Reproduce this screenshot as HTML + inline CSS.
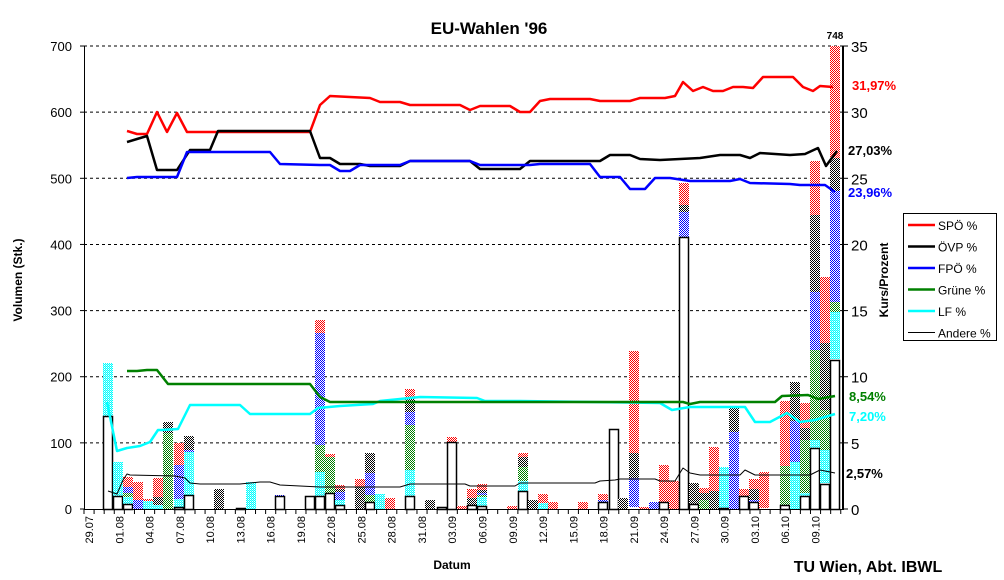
<!DOCTYPE html>
<html><head><meta charset="utf-8"><style>
html,body{margin:0;padding:0;background:#fff}
svg{display:block}
text{font-family:"Liberation Sans",Arial,sans-serif}
</style></head><body>
<svg id="s" width="1004" height="580" xmlns="http://www.w3.org/2000/svg">
<defs>
<pattern id="pr" width="2" height="2" patternUnits="userSpaceOnUse"><rect width="2" height="2" fill="#fff"/><rect width="1" height="1" fill="#f00"/><rect x="1" y="1" width="1" height="1" fill="#f00"/></pattern>
<pattern id="pk" width="2" height="2" patternUnits="userSpaceOnUse"><rect width="2" height="2" fill="#fff"/><rect width="1" height="1" fill="#000"/><rect x="1" y="1" width="1" height="1" fill="#000"/></pattern>
<pattern id="pb" width="2" height="2" patternUnits="userSpaceOnUse"><rect width="2" height="2" fill="#fff"/><rect width="1" height="1" fill="#00f"/><rect x="1" y="1" width="1" height="1" fill="#00f"/></pattern>
<pattern id="pg" width="2" height="2" patternUnits="userSpaceOnUse"><rect width="2" height="2" fill="#fff"/><rect width="1" height="1" fill="#008000"/><rect x="1" y="1" width="1" height="1" fill="#008000"/></pattern>
<pattern id="pc" width="2" height="2" patternUnits="userSpaceOnUse"><rect width="2" height="2" fill="#fff"/><rect width="1" height="1" fill="#0ff"/><rect x="1" y="1" width="1" height="1" fill="#0ff"/><rect x="1" y="0" width="1" height="1" fill="#8ff"/></pattern>
</defs>
<g id="grid"></g>
<g id="bars"></g>
<g id="lines" fill="none"></g>
<g id="axes"></g>
<text x="489" y="34" font-size="17" font-weight="bold" text-anchor="middle">EU-Wahlen '96</text>
<text transform="translate(22,280) rotate(-90)" font-size="12" font-weight="bold" text-anchor="middle">Volumen (Stk.)</text>
<text transform="translate(888,280) rotate(-90)" font-size="12" font-weight="bold" text-anchor="middle">Kurs/Prozent</text>
<text x="452" y="569" font-size="12" font-weight="bold" text-anchor="middle">Datum</text>
<text x="868" y="572" font-size="16" font-weight="bold" text-anchor="middle">TU Wien, Abt. IBWL</text>
<text x="835" y="39" font-size="10" font-weight="bold" text-anchor="middle">748</text>
<text x="852" y="90" font-size="13" font-weight="bold" fill="#f00">31,97%</text>
<text x="848" y="155" font-size="13" font-weight="bold" fill="#000">27,03%</text>
<text x="848" y="197" font-size="13" font-weight="bold" fill="#00f">23,96%</text>
<text x="849" y="401" font-size="13" font-weight="bold" fill="#008000">8,54%</text>
<text x="849" y="421" font-size="13" font-weight="bold" fill="#0ff">7,20%</text>
<text x="846" y="478" font-size="13" font-weight="bold" fill="#000">2,57%</text>
<g id="legend">
<rect x="903.500" y="213.500" width="93" height="127" fill="#fff" stroke="#000"/>
</g>
</svg>
<script>
var NS="http://www.w3.org/2000/svg";
function el(p,t,a,txt){var e=document.createElementNS(NS,t);for(var k in a)e.setAttribute(k,a[k]);if(txt!=null)e.textContent=txt;document.getElementById(p).appendChild(e);return e;}
// grid
for(var i=1;i<=7;i++){var y=509-i*66.14;el("grid","line",{x1:84,x2:843,y1:y,y2:y,stroke:"#000","stroke-dasharray":"3,3","stroke-width":1});}
// axes
el("axes","line",{x1:84.5,x2:84.5,y1:46,y2:509,stroke:"#000","stroke-width":1});
el("axes","line",{x1:843,x2:843,y1:46,y2:510,stroke:"#000","stroke-width":2});
el("axes","line",{x1:84,x2:843,y1:509.5,y2:509.5,stroke:"#000","stroke-width":1});
for(var i=0;i<=7;i++){var y=509-i*66.14;
 el("axes","line",{x1:80,x2:84,y1:y,y2:y,stroke:"#000"});
 el("axes","text",{x:72,y:y+5,"font-size":13,"text-anchor":"end"},String(i*100));
 el("axes","line",{x1:843,x2:848,y1:y,y2:y,stroke:"#000"});
 el("axes","text",{x:851,y:y+6,"font-size":15},String(i*5));}
var dates=["29.07","01.08","04.08","07.08","10.08","13.08","16.08","19.08","22.08","25.08","28.08","31.08","03.09","06.09","09.09","12.09","15.09","18.09","21.09","24.09","27.09","30.09","03.10","06.10","09.10"];
for(var d=0;d<=75;d++){var x=84+d*10.09;el("axes","line",{x1:x,x2:x,y1:509,y2:514,stroke:"#000"});}
for(var j=0;j<dates.length;j++){var x=89+j*3*10.09+4;
 el("axes","text",{transform:"translate("+x+",516) rotate(-90)","font-size":11,"text-anchor":"end"},dates[j]);}
// bars: [x, [[c,top,bottom]...], whiteTop]
var B=[
[103,[["c",363,509]],416],[113,[["c",462,509]],496],
[123,[["r",477,487],["b",487,493],["g",493,497],["c",497,509]],504],
[133,[["r",482,500],["b",500,509]],null],[143,[["r",499,501],["c",501,509]],null],
[153,[["r",478,497],["k",497,505],["c",505,509]],null],
[163,[["k",422,433],["g",433,509]],null],
[174,[["r",443,465],["b",465,499],["c",499,509]],507],
[184,[["k",436,450],["b",450,452],["c",452,509]],495],
[214,[["k",489,509]],null],[236,[],508],[246,[["c",482,509]],null],
[275,[["b",495,497]],496],[305,[],496],
[315,[["r",320,333],["b",333,445],["g",445,472],["c",472,509]],496],
[325,[["r",454,457],["g",457,495]],493],
[335,[["r",485,489],["k",489,492],["b",492,500],["c",500,509]],505],
[355,[["r",479,487],["k",487,509]],null],
[365,[["k",453,473],["b",473,495],["g",495,502]],502],
[375,[["c",494,509]],null],[385,[["r",498,509]],null],
[405,[["r",389,399],["k",399,412],["b",412,425],["g",425,470],["c",470,509]],496],
[425,[["k",500,509]],null],[437,[],507],
[447,[["r",437,442]],442],[457,[["r",506,509]],null],
[467,[["r",489,498],["k",498,505]],505],
[477,[["r",484,490],["k",490,493],["b",493,495],["g",495,497],["c",497,509]],506],
[507,[["r",506,509]],null],
[518,[["r",453,457],["k",457,467],["g",467,481],["c",481,491]],491],
[528,[["k",500,509]],null],[538,[["r",494,503],["c",503,509]],null],
[548,[["r",502,509]],null],[578,[["r",502,509]],null],
[598,[["r",494,500],["b",500,502]],502],
[609,[],429],[618,[["k",498,509]],null],
[629,[["r",351,453],["k",453,478],["b",478,507]],null],
[639,[["r",507,509]],null],[649,[["b",502,509]],null],
[659,[["r",465,509]],502],[669,[["r",481,509]],null],
[679,[["r",183,205],["k",205,212],["b",212,237]],237],
[689,[["k",483,509]],504],
[699,[["r",488,493],["k",493,500],["g",500,509]],null],
[709,[["r",447,491],["k",491,509]],null],
[719,[["c",467,509]],508],
[729,[["k",408,432],["b",432,509]],null],
[739,[["r",489,496],["b",496,509]],496],
[749,[["r",479,489],["k",489,500],["b",500,509]],502],
[759,[["r",472,508]],null],
[780,[["r",401,466],["g",466,509]],505],
[790,[["k",382,421],["b",421,462],["c",462,509]],null],
[800,[["r",403,428],["k",428,440],["g",440,493],["c",493,509]],496],
[810,[["r",161,215],["k",215,292],["b",292,350],["g",350,440],["c",440,509]],448],
[820,[["r",277,343],["k",343,410],["g",410,450],["c",450,483]],484],
[830,[["r",46,158],["k",158,191],["b",191,302],["g",302,312],["c",312,359]],360]
];
B.forEach(function(b){var x=b[0];b[1].forEach(function(s){el("bars","rect",{x:x,y:s[1],width:10,height:s[2]-s[1],fill:"url(#p"+s[0]+")"});});
 if(b[2]!=null)el("bars","rect",{x:x+0.5,y:b[2]+0.5,width:9,height:509-b[2],fill:"#fff",stroke:"#000","stroke-width":1.5});});
function pl(pts,c,w){el("lines","polyline",{points:pts,stroke:c,"stroke-width":w,"stroke-linejoin":"round"});}
pl("107,402 117,451 127,448 140,446 150,442 158,430 162,430 178,429 190,405 240,405 250,414 310,414 318,408 340,406 373,404 380,401 420,397 477,398 485,401 520,401 660,403 672,410 690,407 745,407 755,422 770,422 787,413 800,422 815,420 835,414","#0ff",2.5);
pl("127,371 137,371 147,370 157,370 168,384 310,384 320,397 330,402 400,402 683,402 690,404 700,402 775,402 782,396 808,395 818,399 835,396","#008000",2.5);
pl("127,131 137,134 147,134 157,112 167,132 177,113 187,132 310,132 320,105 330,96 370,98 380,102 400,102 410,105 460,105 470,110 480,106 510,106 520,112 530,112 540,101 550,99 590,99 600,101 630,101 640,98 665,98 675,96 683,82 693,91 703,87 713,91 723,91 733,87 743,87 753,88 763,77 793,77 803,87 813,91 820,86 833,87","#f00",2.5);
pl("127,142 137,139 147,136 157,170 177,170 190,150 210,150 218,131 310,131 320,158 330,158 340,164 360,164 370,166 400,166 410,161 470,161 480,169 520,169 530,161 600,161 610,155 630,155 640,159 660,160 700,158 720,155 740,155 750,158 760,153 790,155 805,154 818,148 826,166 837,151","#000",2.5);
pl("127,178 137,177 177,177 187,152 270,152 280,164 320,165 330,165 340,171 350,171 360,165 400,165 410,161 470,161 480,165 530,165 540,164 590,164 600,177 620,177 630,189 645,189 655,178 670,178 690,181 730,181 740,179 750,183 790,184 800,185 825,185 835,192","#00f",2.5);
pl("108,491 117,494 123,480 127,474 130,475 175,476 185,478 190,483 200,484 240,484 260,482 270,482 280,485 300,486 320,487 400,487 410,484 465,484 470,486 515,486 520,483 595,483 600,481 615,480 620,479 655,479 660,481 675,481 683,468 690,473 700,475 740,475 745,470 755,475 810,475 820,470 835,473","#000",1);
var L=[["SPÖ %","#f00",2.5],["ÖVP %","#000",2.5],["FPÖ %","#00f",2.5],["Grüne %","#008000",2.5],["LF %","#0ff",2.5],["Andere %","#000",1]];
L.forEach(function(l,i){var y=225+i*21.5;el("legend","line",{x1:908,x2:935,y1:y,y2:y,stroke:l[1],"stroke-width":l[2]});
 el("legend","text",{x:938,y:y+5,"font-size":12},l[0]);});
</script>
</body></html>
